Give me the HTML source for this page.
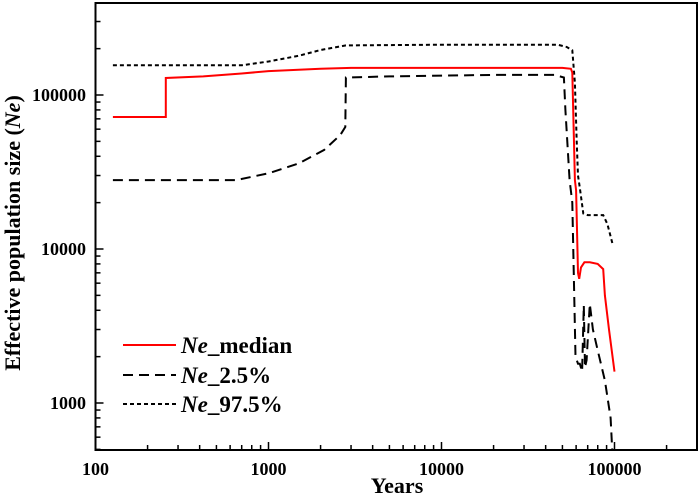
<!DOCTYPE html>
<html><head><meta charset="utf-8"><style>
body{margin:0;background:#fff}
svg{display:block}
text{font-family:"Liberation Serif",serif;font-weight:bold;fill:#000}
</style></head><body>
<svg id="chart" width="700" height="495" xmlns="http://www.w3.org/2000/svg">
<g id="plot"></g>
</svg>
<script>
const xTicks=[100,1000,10000,100000];
const yTicks=[1000,10000,100000];
const medYears=[126,255,255,420,700,1000,2000,3000,10000,50000,56000,57000,59000,60000,61500,62500,64000,67000,72000,80000,86000,88000,93000,100000];
const medNe=[72000,72000,129000,132000,138000,143000,148000,150000,150000,150000,148000,140000,28000,24000,7000,6400,7600,8200,8200,8000,7400,5000,3000,1600];
const loYears=[126,650,1000,1500,2100,2600,2780,2800,5000,20000,45000,51000,52000,55000,57000,59500,61500,63000,65000,66500,67500,69000,72000,75000,80000,88000,95000,97000];
const loNe=[28000,28000,31000,36000,44000,55000,62000,130000,132000,135000,135000,130000,80000,28000,20000,2000,1800,1800,1600,4300,1700,1900,4400,3000,2200,1400,800,500];
const hiYears=[126,700,1000,1500,2000,2800,10000,47000,53000,57000,59000,60500,61500,63000,66000,70000,86000,91000,98000];
const hiNe=[156000,156000,165000,180000,196000,210000,212000,212000,205000,195000,120000,50000,30000,25000,17000,16600,16600,14500,10500];

const L=95.5,R=697,T=3,B=450;
const xs=v=>L+(Math.log10(v)-2)*173;
const ys=v=>95-(Math.log10(v)-5)*154;
const NS="http://www.w3.org/2000/svg";
const g=document.getElementById('plot');
function mk(tag,attrs){const e=document.createElementNS(NS,tag);for(const k in attrs)e.setAttribute(k,attrs[k]);g.appendChild(e);return e;}

let fr=mk('rect',{x:L,y:T,width:R-L,height:B-T,fill:'none',stroke:'#000','stroke-width':2});



for(let d=100;d<=100000;d*=10){
  for(let m=1;m<10;m++){
    const v=d*m; const x=xs(v); if(x>R)break;
    const t=mk('line',{x1:x,x2:x,y1:B,y2:B-(m===1?8:5),stroke:'#000','stroke-width':1.5});
    
    
  }
}
xTicks.forEach(v=>{
  const t=mk('text',{x:xs(v),y:475,'text-anchor':'middle','font-size':18});
  t.textContent=String(v);
  
  
});
for(let d=100;d<=100000;d*=10){
  for(let m=1;m<10;m++){
    const v=d*m; const y=ys(v); if(y>B||y<T)continue;
    const t=mk('line',{x1:L,x2:L+(m===1?8:5),y1:y,y2:y,stroke:'#000','stroke-width':1.5});
    
    
  }
}
yTicks.forEach(v=>{
  const t=mk('text',{x:86,y:ys(v)+6,'text-anchor':'end','font-size':18});
  t.textContent=String(v);
  
  
});
let xt=mk('text',{x:397,y:493,'text-anchor':'middle','font-size':22});
xt.textContent='Years';


let yt=mk('text',{x:0,y:0,'text-anchor':'middle','font-size':22,transform:'translate(20,233) rotate(-90)'});
yt.innerHTML='Effective population size (<tspan font-style="italic">Ne</tspan>)';



function series(xsArr,ysArr,attrs,name){
  const d=xsArr.map((v,i)=>(i?'L':'M')+xs(v).toFixed(1)+','+ys(ysArr[i]).toFixed(1)).join(' ');
  const p=mk('path',Object.assign({d:d,fill:'none'},attrs));
  
  
}
series(hiYears,hiNe,{stroke:'#000','stroke-width':2,'stroke-dasharray':'4,3'},'ne-97.5-line');
series(loYears,loNe,{stroke:'#000','stroke-width':2,'stroke-dasharray':'10,6'},'ne-2.5-line');
series(medYears,medNe,{stroke:'#f00','stroke-width':2},'ne-median-line');

const leg=[['median',{stroke:'#f00','stroke-width':2},345],['2.5%',{stroke:'#000','stroke-width':2,'stroke-dasharray':'10,6'},375],['97.5%',{stroke:'#000','stroke-width':2,'stroke-dasharray':'4,3'},404]];
leg.forEach(l=>{
  const ln=mk('line',Object.assign({x1:123,x2:176,y1:l[2],y2:l[2]},l[1]));
  
  
  const t=mk('text',{x:181,y:l[2]+8,'font-size':23});
  t.innerHTML='<tspan font-style="italic">Ne</tspan>_'+l[0];
  
  
});
</script>
</body></html>
